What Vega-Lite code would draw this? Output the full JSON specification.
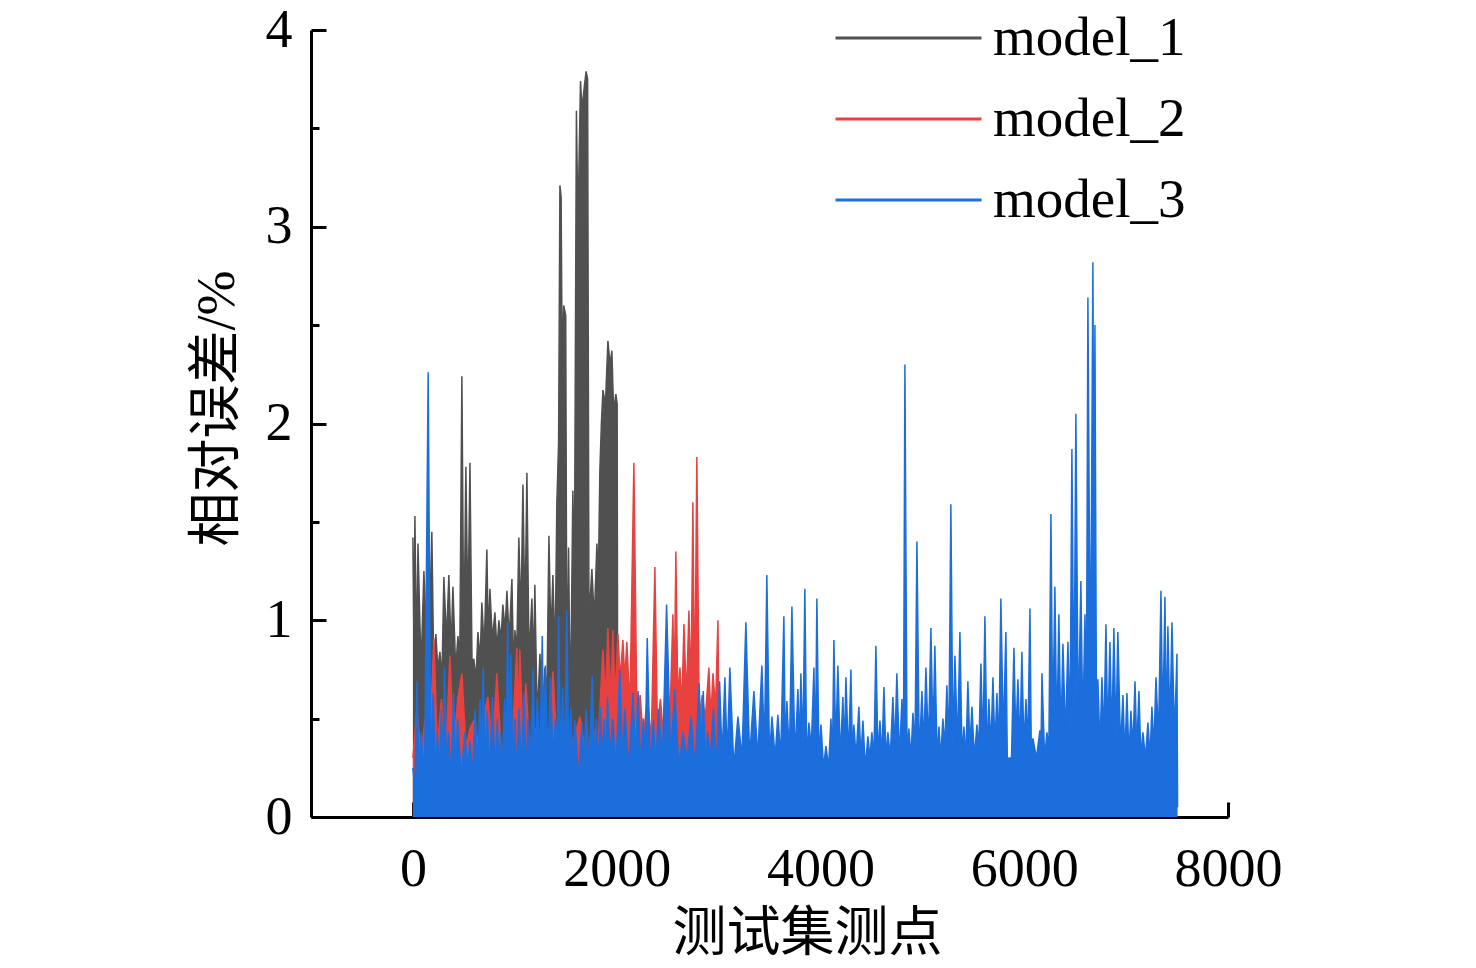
{
  "$schema": "https://vega.github.io/schema/vega-lite/v6.json",
  "autosize": {"type": "none"},
  "padding": {"left": 311, "top": 30, "right": 248, "bottom": 151},
  "width": 917,
  "height": 787,
  "config": {
    "view": {"stroke": null},
    "font": "Liberation Serif",
    "axis": {
      "grid": false,
      "domainColor": "#000000",
      "domainWidth": 3,
      "tickColor": "#000000",
      "tickWidth": 3,
      "labelColor": "#000000",
      "labelFont": "Liberation Serif",
      "labelFontSize": 54,
      "titleColor": "#000000",
      "titleFont": "Liberation Serif, Noto Sans CJK SC",
      "titleFontSize": 54,
      "titleFontWeight": "normal"
    },
    "legend": {
      "labelFont": "Liberation Serif",
      "labelFontSize": 55,
      "labelColor": "#000000",
      "labelLimit": 0
    }
  },
  "datasets": {
    "m1": [
      {"x":0,"y":1.42},{"x":10,"y":0.9},{"x":20,"y":1.53},{"x":35,"y":0.8},{"x":50,"y":1.39},{"x":80,"y":0.75},{"x":108,"y":1.25},{"x":150,"y":0.7},{"x":186,"y":1.45},{"x":205,"y":0.75},
      {"x":226,"y":0.93},{"x":245,"y":0.75},{"x":265,"y":0.84},{"x":285,"y":0.7},{"x":304,"y":1.22},{"x":330,"y":0.9},{"x":353,"y":1.23},{"x":375,"y":0.85},{"x":393,"y":1.17},{"x":420,"y":0.75},
      {"x":442,"y":0.92},{"x":460,"y":0.8},{"x":481,"y":2.24},{"x":500,"y":0.85},{"x":520,"y":1.78},{"x":540,"y":1.0},{"x":560,"y":1.8},{"x":580,"y":0.8},{"x":599,"y":0.8},{"x":620,"y":0.7},
      {"x":638,"y":0.94},{"x":660,"y":0.8},{"x":677,"y":1.09},{"x":700,"y":0.85},{"x":726,"y":1.36},{"x":740,"y":0.9},{"x":756,"y":1.16},{"x":780,"y":0.9},{"x":805,"y":1.04},{"x":825,"y":0.85},
      {"x":844,"y":1.0},{"x":865,"y":0.9},{"x":883,"y":1.08},{"x":905,"y":0.95},{"x":923,"y":1.15},{"x":945,"y":0.9},{"x":972,"y":1.21},{"x":990,"y":0.7},{"x":1001,"y":0.95},{"x":1020,"y":0.85},
      {"x":1040,"y":1.42},{"x":1060,"y":1.0},{"x":1080,"y":1.69},{"x":1100,"y":1.0},{"x":1119,"y":1.75},{"x":1140,"y":0.8},{"x":1168,"y":1.11},{"x":1185,"y":0.75},{"x":1197,"y":1.18},{"x":1220,"y":0.5},
      {"x":1247,"y":0.83},{"x":1270,"y":0.5},{"x":1296,"y":0.76},{"x":1315,"y":0.6},{"x":1335,"y":1.43},{"x":1355,"y":0.9},{"x":1374,"y":1.23},{"x":1395,"y":0.8},{"x":1413,"y":1.6},{"x":1430,"y":1.9},
      {"x":1443,"y":3.21},{"x":1455,"y":3.15},{"x":1465,"y":2.3},{"x":1480,"y":2.6},{"x":1500,"y":2.55},{"x":1512,"y":0.6},{"x":1528,"y":1.37},{"x":1545,"y":0.5},{"x":1570,"y":1.66},{"x":1585,"y":1.2},
      {"x":1605,"y":3.59},{"x":1620,"y":3.0},{"x":1645,"y":3.74},{"x":1660,"y":3.6},{"x":1680,"y":3.7},{"x":1700,"y":3.79},{"x":1715,"y":3.75},{"x":1728,"y":1.0},{"x":1757,"y":1.26},{"x":1780,"y":1.0},
      {"x":1806,"y":1.39},{"x":1820,"y":1.2},{"x":1835,"y":1.76},{"x":1850,"y":2.0},{"x":1865,"y":2.17},{"x":1890,"y":2.1},{"x":1914,"y":2.42},{"x":1935,"y":2.3},{"x":1953,"y":2.37},{"x":1970,"y":2.06},
      {"x":1992,"y":2.15},{"x":2005,"y":2.1},{"x":2010,"y":0.3}
    ],
    "m2": [
      {"x":0,"y":0.3},{"x":40,"y":0.55},{"x":80,"y":0.3},{"x":120,"y":0.5},{"x":160,"y":0.3},{"x":206,"y":0.91},{"x":240,"y":0.35},{"x":280,"y":0.6},{"x":320,"y":0.3},{"x":363,"y":0.82},
      {"x":400,"y":0.35},{"x":440,"y":0.6},{"x":481,"y":0.73},{"x":520,"y":0.35},{"x":560,"y":0.45},{"x":609,"y":0.5},{"x":650,"y":0.3},{"x":690,"y":0.5},{"x":736,"y":0.61},{"x":780,"y":0.35},
      {"x":824,"y":0.73},{"x":870,"y":0.3},{"x":920,"y":0.5},{"x":970,"y":0.35},{"x":1021,"y":0.86},{"x":1035,"y":0.5},{"x":1050,"y":0.85},{"x":1080,"y":0.4},{"x":1109,"y":0.68},{"x":1150,"y":0.3},
      {"x":1200,"y":0.45},{"x":1250,"y":0.3},{"x":1300,"y":0.5},{"x":1340,"y":0.35},{"x":1374,"y":0.74},{"x":1420,"y":0.3},{"x":1470,"y":0.45},{"x":1520,"y":0.3},{"x":1580,"y":0.4},{"x":1639,"y":0.51},
      {"x":1700,"y":0.3},{"x":1760,"y":0.45},{"x":1820,"y":0.4},{"x":1865,"y":0.85},{"x":1890,"y":0.6},{"x":1914,"y":0.96},{"x":1940,"y":0.6},{"x":1963,"y":0.95},{"x":1985,"y":0.6},{"x":2012,"y":0.93},
      {"x":2035,"y":0.7},{"x":2061,"y":0.9},{"x":2080,"y":0.7},{"x":2100,"y":0.89},{"x":2130,"y":0.55},{"x":2169,"y":1.8},{"x":2200,"y":0.45},{"x":2230,"y":0.62},{"x":2260,"y":0.4},{"x":2300,"y":0.6},
      {"x":2340,"y":0.4},{"x":2375,"y":1.27},{"x":2400,"y":0.45},{"x":2430,"y":0.6},{"x":2460,"y":0.4},{"x":2490,"y":0.55},{"x":2520,"y":0.45},{"x":2552,"y":1.03},{"x":2565,"y":0.6},{"x":2581,"y":1.35},
      {"x":2600,"y":0.6},{"x":2621,"y":0.76},{"x":2640,"y":0.55},{"x":2660,"y":0.98},{"x":2685,"y":0.6},{"x":2709,"y":1.05},{"x":2730,"y":0.65},{"x":2748,"y":1.6},{"x":2765,"y":0.55},{"x":2787,"y":1.83},
      {"x":2810,"y":0.5},{"x":2840,"y":0.62},{"x":2870,"y":0.5},{"x":2905,"y":0.76},{"x":2925,"y":0.5},{"x":2945,"y":0.73},{"x":2970,"y":0.55},{"x":2994,"y":1.0},{"x":3005,"y":0.3}
    ],
    "m3": [
      {"x":0,"y":0.25},{"x":20,"y":0.15},{"x":40,"y":0.69},{"x":60,"y":0.2},{"x":80,"y":0.43},{"x":115,"y":0.2},{"x":150,"y":2.26},{"x":175,"y":0.25},{"x":200,"y":0.63},{"x":220,"y":0.2},
      {"x":240,"y":0.43},{"x":260,"y":0.22},{"x":280,"y":0.55},{"x":295,"y":0.2},{"x":310,"y":0.76},{"x":330,"y":0.25},{"x":350,"y":0.43},{"x":375,"y":0.2},{"x":400,"y":0.63},{"x":420,"y":0.25},
      {"x":440,"y":0.5},{"x":475,"y":0.2},{"x":510,"y":0.43},{"x":535,"y":0.25},{"x":560,"y":0.39},{"x":585,"y":0.2},{"x":610,"y":0.55},{"x":635,"y":0.25},{"x":660,"y":0.6},{"x":675,"y":0.3},
      {"x":690,"y":0.76},{"x":710,"y":0.25},{"x":730,"y":0.54},{"x":755,"y":0.2},{"x":780,"y":0.61},{"x":805,"y":0.25},{"x":830,"y":0.5},{"x":845,"y":0.2},{"x":860,"y":0.43},{"x":880,"y":0.25},
      {"x":900,"y":0.6},{"x":915,"y":0.3},{"x":930,"y":0.99},{"x":945,"y":0.3},{"x":960,"y":0.83},{"x":980,"y":0.25},{"x":1000,"y":0.5},{"x":1020,"y":0.2},{"x":1040,"y":0.55},{"x":1065,"y":0.25},
      {"x":1090,"y":0.63},{"x":1110,"y":0.2},{"x":1130,"y":0.5},{"x":1155,"y":0.3},{"x":1180,"y":0.76},{"x":1200,"y":0.25},{"x":1220,"y":0.6},{"x":1245,"y":0.3},{"x":1270,"y":0.92},{"x":1285,"y":0.3},
      {"x":1300,"y":0.77},{"x":1325,"y":0.25},{"x":1350,"y":0.71},{"x":1375,"y":0.3},{"x":1400,"y":0.5},{"x":1415,"y":0.3},{"x":1430,"y":1.02},{"x":1450,"y":0.3},{"x":1470,"y":0.66},{"x":1490,"y":0.25},
      {"x":1510,"y":1.05},{"x":1530,"y":0.3},{"x":1550,"y":0.55},{"x":1570,"y":0.25},{"x":1590,"y":0.49},{"x":1625,"y":0.2},{"x":1660,"y":0.48},{"x":1680,"y":0.25},{"x":1700,"y":0.55},{"x":1730,"y":0.25},
      {"x":1760,"y":0.72},{"x":1780,"y":0.3},{"x":1800,"y":0.5},{"x":1820,"y":0.25},{"x":1840,"y":0.56},{"x":1860,"y":0.3},{"x":1880,"y":0.5},{"x":1895,"y":0.25},{"x":1910,"y":0.61},{"x":1935,"y":0.3},
      {"x":1960,"y":0.5},{"x":1995,"y":0.25},{"x":2030,"y":0.75},{"x":2055,"y":0.3},{"x":2080,"y":0.55},{"x":2120,"y":0.25},{"x":2160,"y":0.63},{"x":2185,"y":0.3},{"x":2210,"y":0.64},{"x":2235,"y":0.25},
      {"x":2260,"y":0.5},{"x":2280,"y":0.3},{"x":2300,"y":0.91},{"x":2330,"y":0.25},{"x":2360,"y":0.49},{"x":2385,"y":0.25},{"x":2410,"y":0.55},{"x":2450,"y":0.3},{"x":2490,"y":1.08},{"x":2530,"y":0.3},
      {"x":2570,"y":0.65},{"x":2610,"y":0.25},{"x":2650,"y":0.43},{"x":2690,"y":0.3},{"x":2730,"y":0.51},{"x":2770,"y":0.25},{"x":2810,"y":0.68},{"x":2830,"y":0.3},{"x":2850,"y":0.64},{"x":2870,"y":0.25},
      {"x":2890,"y":0.43},{"x":2920,"y":0.3},{"x":2950,"y":0.55},{"x":2980,"y":0.25},{"x":3010,"y":0.69},{"x":3035,"y":0.3},{"x":3062,"y":0.71},{"x":3085,"y":0.3},{"x":3111,"y":0.76},{"x":3150,"y":0.25},
      {"x":3190,"y":0.51},{"x":3230,"y":0.3},{"x":3268,"y":0.99},{"x":3305,"y":0.3},{"x":3347,"y":0.64},{"x":3385,"y":0.3},{"x":3425,"y":0.77},{"x":3450,"y":0.35},{"x":3474,"y":1.23},{"x":3500,"y":0.3},
      {"x":3524,"y":0.51},{"x":3555,"y":0.3},{"x":3582,"y":0.52},{"x":3610,"y":0.3},{"x":3641,"y":1.02},{"x":3655,"y":0.35},{"x":3671,"y":0.59},{"x":3695,"y":0.3},{"x":3720,"y":1.07},{"x":3750,"y":0.3},
      {"x":3779,"y":0.65},{"x":3795,"y":0.35},{"x":3808,"y":0.73},{"x":3828,"y":0.35},{"x":3847,"y":1.16},{"x":3865,"y":0.3},{"x":3887,"y":0.48},{"x":3910,"y":0.35},{"x":3936,"y":0.76},{"x":3950,"y":0.3},
      {"x":3965,"y":1.11},{"x":3985,"y":0.3},{"x":4005,"y":0.47},{"x":4030,"y":0.25},{"x":4054,"y":0.36},{"x":4080,"y":0.25},{"x":4103,"y":0.5},{"x":4118,"y":0.3},{"x":4132,"y":0.9},{"x":4150,"y":0.35},
      {"x":4171,"y":0.77},{"x":4195,"y":0.3},{"x":4220,"y":0.61},{"x":4235,"y":0.35},{"x":4250,"y":0.71},{"x":4275,"y":0.3},{"x":4299,"y":0.75},{"x":4315,"y":0.3},{"x":4328,"y":0.47},{"x":4350,"y":0.3},
      {"x":4377,"y":0.56},{"x":4397,"y":0.3},{"x":4417,"y":0.49},{"x":4440,"y":0.25},{"x":4466,"y":0.41},{"x":4485,"y":0.3},{"x":4505,"y":0.43},{"x":4525,"y":0.3},{"x":4544,"y":0.87},{"x":4565,"y":0.3},
      {"x":4584,"y":0.49},{"x":4603,"y":0.3},{"x":4623,"y":0.66},{"x":4643,"y":0.3},{"x":4662,"y":0.43},{"x":4685,"y":0.3},{"x":4711,"y":0.61},{"x":4730,"y":0.35},{"x":4750,"y":0.73},{"x":4775,"y":0.3},
      {"x":4800,"y":0.6},{"x":4815,"y":0.35},{"x":4829,"y":2.3},{"x":4850,"y":0.3},{"x":4868,"y":0.45},{"x":4888,"y":0.3},{"x":4908,"y":0.53},{"x":4928,"y":0.35},{"x":4947,"y":1.4},{"x":4970,"y":0.3},
      {"x":4996,"y":0.64},{"x":5015,"y":0.35},{"x":5035,"y":0.76},{"x":5060,"y":0.35},{"x":5084,"y":0.96},{"x":5105,"y":0.4},{"x":5123,"y":0.87},{"x":5145,"y":0.3},{"x":5163,"y":0.46},{"x":5180,"y":0.3},
      {"x":5202,"y":0.5},{"x":5220,"y":0.35},{"x":5241,"y":0.67},{"x":5260,"y":0.35},{"x":5280,"y":1.59},{"x":5300,"y":0.35},{"x":5320,"y":0.82},{"x":5345,"y":0.35},{"x":5369,"y":0.94},{"x":5390,"y":0.3},
      {"x":5408,"y":0.46},{"x":5428,"y":0.3},{"x":5447,"y":0.69},{"x":5467,"y":0.35},{"x":5487,"y":0.56},{"x":5510,"y":0.3},{"x":5536,"y":0.47},{"x":5555,"y":0.35},{"x":5575,"y":0.78},{"x":5595,"y":0.35},
      {"x":5614,"y":1.02},{"x":5635,"y":0.3},{"x":5653,"y":0.6},{"x":5673,"y":0.35},{"x":5693,"y":0.71},{"x":5712,"y":0.35},{"x":5732,"y":0.63},{"x":5750,"y":0.35},{"x":5771,"y":1.11},{"x":5795,"y":0.4},
      {"x":5820,"y":0.94},{"x":5835,"y":0.25},{"x":5850,"y":0.3},{"x":5875,"y":0.3},{"x":5899,"y":0.86},{"x":5918,"y":0.4},{"x":5938,"y":0.7},{"x":5958,"y":0.35},{"x":5977,"y":0.84},{"x":5997,"y":0.35},
      {"x":6017,"y":0.6},{"x":6035,"y":0.35},{"x":6056,"y":1.06},{"x":6070,"y":0.3},{"x":6085,"y":0.4},{"x":6120,"y":0.3},{"x":6154,"y":0.44},{"x":6165,"y":0.35},{"x":6174,"y":0.73},{"x":6200,"y":0.3},
      {"x":6223,"y":0.43},{"x":6242,"y":0.35},{"x":6262,"y":1.54},{"x":6280,"y":0.45},{"x":6301,"y":1.17},{"x":6320,"y":0.4},{"x":6340,"y":1.03},{"x":6360,"y":0.4},{"x":6380,"y":0.88},{"x":6405,"y":0.4},
      {"x":6429,"y":0.89},{"x":6450,"y":0.45},{"x":6468,"y":1.87},{"x":6488,"y":0.5},{"x":6507,"y":2.05},{"x":6530,"y":0.45},{"x":6556,"y":1.2},{"x":6575,"y":0.45},{"x":6596,"y":1.03},{"x":6610,"y":0.5},
      {"x":6625,"y":2.64},{"x":6650,"y":0.6},{"x":6674,"y":2.82},{"x":6685,"y":1.2},{"x":6694,"y":2.5},{"x":6710,"y":0.4},{"x":6723,"y":0.7},{"x":6743,"y":0.35},{"x":6763,"y":0.71},{"x":6782,"y":0.4},
      {"x":6802,"y":0.98},{"x":6820,"y":0.4},{"x":6841,"y":0.89},{"x":6860,"y":0.4},{"x":6880,"y":0.96},{"x":6900,"y":0.4},{"x":6919,"y":0.94},{"x":6945,"y":0.35},{"x":6969,"y":0.62},{"x":6988,"y":0.3},
      {"x":7008,"y":0.63},{"x":7028,"y":0.3},{"x":7047,"y":0.54},{"x":7067,"y":0.35},{"x":7087,"y":0.69},{"x":7105,"y":0.35},{"x":7126,"y":0.64},{"x":7145,"y":0.3},{"x":7165,"y":0.43},{"x":7190,"y":0.3},
      {"x":7214,"y":0.48},{"x":7235,"y":0.3},{"x":7253,"y":0.56},{"x":7273,"y":0.35},{"x":7293,"y":0.71},{"x":7318,"y":0.4},{"x":7342,"y":1.15},{"x":7360,"y":0.45},{"x":7381,"y":1.12},{"x":7395,"y":0.4},
      {"x":7410,"y":0.97},{"x":7430,"y":0.45},{"x":7450,"y":0.99},{"x":7475,"y":0.4},{"x":7499,"y":0.83},{"x":7505,"y":0.05}
    ]
  },
  "resolve": {"axis": {"x": "independent", "y": "independent"}},
  "layer": [
    {
      "data": {"name": "m1"},
      "mark": {"type": "area", "color": "#505050"},
      "encoding": {
        "x": {"field": "x", "type": "quantitative", "scale": {"domain": [-1000, 8000], "nice": false, "zero": false},
          "axis": {"orient": "bottom", "values": [0, 2000, 4000, 6000, 8000], "format": "d", "tickSize": -15, "labelPadding": 40, "labelFlush": false,
            "title": "测试集测点", "titleX": 496, "titleY": 117, "titleAlign": "center", "titleBaseline": "middle", "titleAnchor": null}},
        "y": {"field": "y", "type": "quantitative", "scale": {"domain": [0, 4], "nice": false},
          "axis": {"orient": "left", "values": [0, 1, 2, 3, 4], "format": "d", "tickSize": -15, "labelPadding": 34, "labelFlush": false,
            "title": "相对误差/%", "titleX": -94, "titleY": 378, "titleAlign": "center", "titleBaseline": "middle", "titleAngle": -90, "titleAnchor": null}}
      }
    },
    {
      "data": {"name": "m1"},
      "mark": {"type": "line", "strokeWidth": 1.5},
      "encoding": {
        "x": {"field": "x", "type": "quantitative", "scale": {"domain": [-1000, 8000], "nice": false, "zero": false},
          "axis": {"orient": "bottom", "values": [1000, 3000, 5000, 7000], "tickSize": -8, "labels": false, "domain": false, "title": null}},
        "y": {"field": "y", "type": "quantitative", "scale": {"domain": [0, 4], "nice": false},
          "axis": {"orient": "left", "values": [0.5, 1.5, 2.5, 3.5], "tickSize": -8, "labels": false, "domain": false, "title": null}},
        "color": {"datum": "model_1", "type": "nominal",
          "scale": {"domain": ["model_1", "model_2", "model_3"], "range": ["#505050", "#E8413F", "#1B6EDC"]},
          "legend": {"orient": "none", "legendX": 523, "legendY": -20, "title": null, "symbolType": "stroke", "symbolSize": 21316,
            "symbolStrokeWidth": 3, "rowPadding": 25, "clipHeight": 56, "labelOffset": 10, "padding": 0}}
      }
    },
    {
      "data": {"name": "m2"},
      "mark": {"type": "area", "color": "#E8413F"},
      "encoding": {
        "x": {"field": "x", "type": "quantitative", "scale": {"domain": [-1000, 8000], "nice": false, "zero": false}, "axis": null},
        "y": {"field": "y", "type": "quantitative", "scale": {"domain": [0, 4], "nice": false}, "axis": null}
      }
    },
    {
      "data": {"name": "m2"},
      "mark": {"type": "line", "strokeWidth": 1.5},
      "encoding": {
        "x": {"field": "x", "type": "quantitative", "scale": {"domain": [-1000, 8000], "nice": false, "zero": false}, "axis": null},
        "y": {"field": "y", "type": "quantitative", "scale": {"domain": [0, 4], "nice": false}, "axis": null},
        "color": {"datum": "model_2", "type": "nominal"}
      }
    },
    {
      "data": {"name": "m3"},
      "mark": {"type": "area", "color": "#1B6EDC"},
      "encoding": {
        "x": {"field": "x", "type": "quantitative", "scale": {"domain": [-1000, 8000], "nice": false, "zero": false}, "axis": null},
        "y": {"field": "y", "type": "quantitative", "scale": {"domain": [0, 4], "nice": false}, "axis": null}
      }
    },
    {
      "data": {"name": "m3"},
      "mark": {"type": "line", "strokeWidth": 1.5},
      "encoding": {
        "x": {"field": "x", "type": "quantitative", "scale": {"domain": [-1000, 8000], "nice": false, "zero": false}, "axis": null},
        "y": {"field": "y", "type": "quantitative", "scale": {"domain": [0, 4], "nice": false}, "axis": null},
        "color": {"datum": "model_3", "type": "nominal"}
      }
    }
  ]
}
